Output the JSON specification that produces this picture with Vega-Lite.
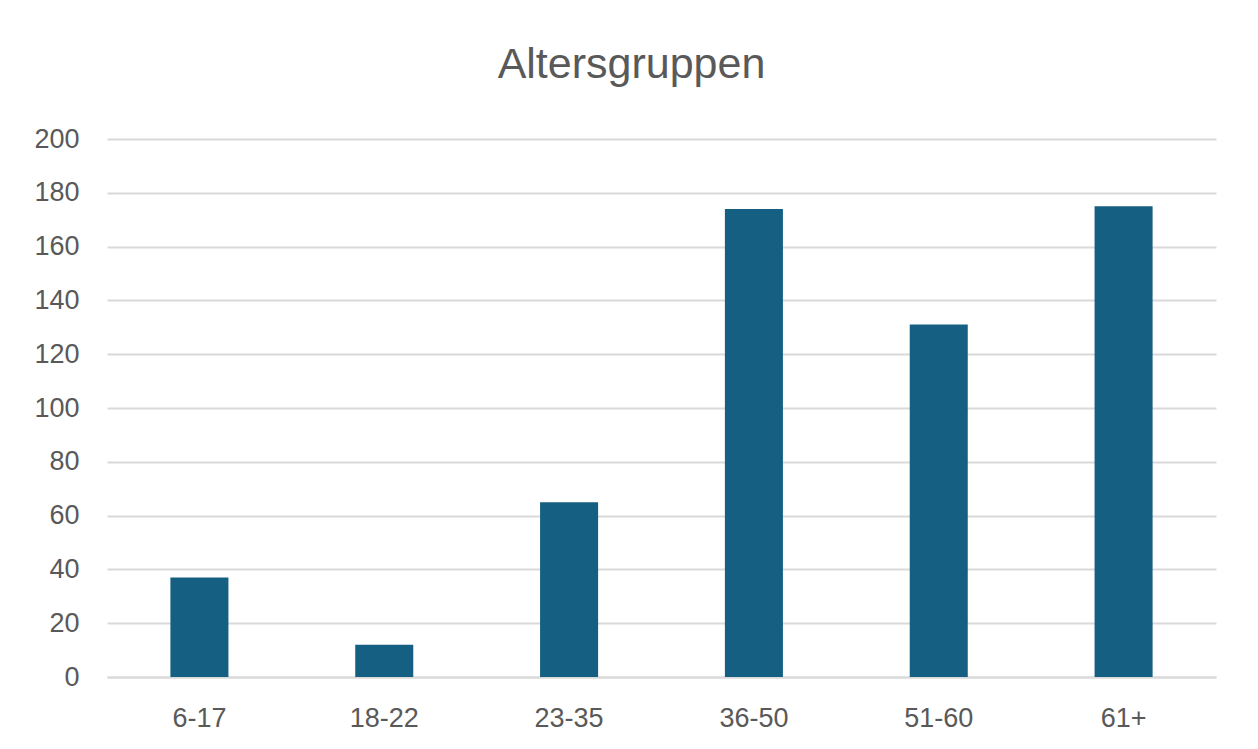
{
  "$schema": "https://vega.github.io/schema/vega-lite/v6.json",
  "autosize": {"type": "none"},
  "width": 1109,
  "height": 538,
  "padding": {"left": 107, "top": 139, "right": 42, "bottom": 72},
  "background": "white",
  "title": {
    "text": "Altersgruppen",
    "font": "Liberation Sans",
    "fontSize": 43,
    "fontWeight": "normal",
    "color": "#595959",
    "offset": 38,
    "dx": -30,
    "anchor": "middle"
  },
  "data": {
    "values": [
      {"gruppe": "6-17", "anzahl": 37},
      {"gruppe": "18-22", "anzahl": 12},
      {"gruppe": "23-35", "anzahl": 65},
      {"gruppe": "36-50", "anzahl": 174},
      {"gruppe": "51-60", "anzahl": 131},
      {"gruppe": "61+", "anzahl": 175}
    ]
  },
  "mark": {"type": "bar", "color": "#156082"},
  "encoding": {
    "x": {
      "field": "gruppe",
      "type": "nominal",
      "sort": null,
      "scale": {"paddingInner": 0.686, "paddingOuter": 0.343},
      "axis": {
        "title": null,
        "labelAngle": 0,
        "labelFont": "Liberation Sans",
        "labelFontSize": 27,
        "labelColor": "#595959",
        "labelPadding": 28,
        "ticks": false,
        "domainColor": "#d9d9d9",
        "domainWidth": 2
      }
    },
    "y": {
      "field": "anzahl",
      "type": "quantitative",
      "scale": {"domain": [0, 200]},
      "axis": {
        "title": null,
        "values": [0, 20, 40, 60, 80, 100, 120, 140, 160, 180, 200],
        "labelFont": "Liberation Sans",
        "labelFontSize": 27,
        "labelColor": "#595959",
        "labelPadding": 28,
        "ticks": false,
        "domain": false,
        "gridColor": "#d9d9d9",
        "gridWidth": 2
      }
    }
  },
  "config": {"view": {"stroke": null}}
}
